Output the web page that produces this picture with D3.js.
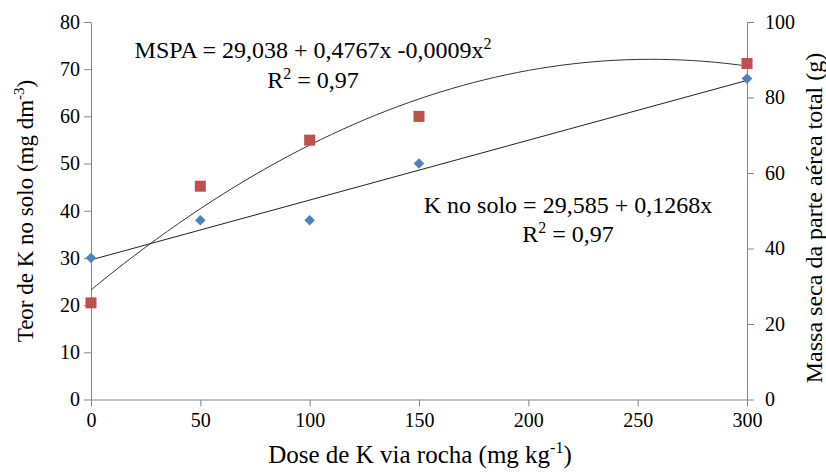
<!DOCTYPE html>
<html>
<head>
<meta charset="utf-8">
<script src="https://cdn.jsdelivr.net/npm/d3@7"></script>
<style>
  body { margin: 0; background: #fff; }
  svg text { font-family: "Liberation Serif", "Times New Roman", serif; fill: #000; }
  .axis path, .axis line { stroke: #868686; }
  .axis text { font-size: 20px; }
</style>
</head>
<body>
<div id="chart"></div>
<script>
var width = 826;
var height = 473;

// doses (x axis)
var doses = [0, 50, 100, 150, 300];
// K no solo (left axis, mg dm-3)
var kSolo = [30, 38, 38, 50, 68];
// MSPA (right axis, g)
var mspa = [25.6, 56.5, 68.7, 75, 89];

// trendline coefficients (quadratic term unrounded to follow the drawn curve)
var kSoloFit = [29.585, 0.1268];
var mspaFit = [29.038, 0.4767, -0.00093];

var xTicks = [0, 50, 100, 150, 200, 250, 300];
var leftTicks = [0, 10, 20, 30, 40, 50, 60, 70, 80];
var rightTicks = [0, 20, 40, 60, 80, 100];

var margin = {top: 22, right: 80, bottom: 74, left: 91};

var svg = d3.select("#chart").append("svg")
  .attr("width", width)
  .attr("height", height);

var x = d3.scaleLinear().domain([0, 300]).range([margin.left, 747]);
var yL = d3.scaleLinear().domain([0, 80]).range([399.5, margin.top]);
var yR = d3.scaleLinear().domain([0, 100]).range([399.5, margin.top]);

// axes
svg.append("g")
  .attr("class", "axis")
  .attr("transform", "translate(0," + yL(0) + ")")
  .call(d3.axisBottom(x).tickValues(xTicks).tickSize(7).tickSizeOuter(0).tickPadding(6));

svg.append("g")
  .attr("class", "axis")
  .attr("transform", "translate(" + x(0) + ",0)")
  .call(d3.axisLeft(yL).tickValues(leftTicks).tickSize(7).tickSizeOuter(0).tickPadding(4));

svg.append("g")
  .attr("class", "axis")
  .attr("transform", "translate(" + x(300) + ",0)")
  .call(d3.axisRight(yR).tickValues(rightTicks).tickSize(7).tickSizeOuter(0).tickPadding(11));

// d3 puts sans-serif on axis groups, drop it
svg.selectAll(".axis").attr("font-family", null).attr("font-size", null);

// trend lines
var lin = d3.line()
  .x(function(d) { return x(d); })
  .y(function(d) { return yL(kSoloFit[0] + kSoloFit[1] * d); });

svg.append("path")
  .datum([0, 300])
  .attr("d", lin)
  .attr("fill", "none")
  .attr("stroke", "#222")
  .attr("stroke-width", 1);

var quad = d3.line()
  .x(function(d) { return x(d); })
  .y(function(d) { return yR(mspaFit[0] + mspaFit[1] * d + mspaFit[2] * d * d); })
  .curve(d3.curveBasis);

svg.append("path")
  .datum(d3.range(0, 301, 5))
  .attr("d", quad)
  .attr("fill", "none")
  .attr("stroke", "#333")
  .attr("stroke-width", 1);

// markers
svg.append("g").selectAll("rect")
  .data(doses)
  .enter()
  .append("rect")
  .attr("x", function(d) { return x(d) - 5.5; })
  .attr("y", function(d, i) { return yR(mspa[i]) - 5.5; })
  .attr("width", 11)
  .attr("height", 11)
  .attr("fill", "#C0504D");

svg.append("g").selectAll("path")
  .data(doses)
  .enter()
  .append("path")
  .attr("d", d3.symbol().type(d3.symbolSquare).size(56))
  .attr("transform", function(d, i) {
    return "translate(" + x(d) + "," + yL(kSolo[i]) + ") rotate(45)";
  })
  .attr("fill", "#4F81BD");

// equations
var eq1 = svg.append("text")
  .attr("x", 313).attr("y", 58)
  .attr("text-anchor", "middle")
  .style("font-size", "24px");
eq1.append("tspan").text("MSPA = 29,038 + 0,4767x -0,0009x");
eq1.append("tspan").attr("dy", -9).style("font-size", "16px").text("2");

var eq1r = svg.append("text")
  .attr("x", 313).attr("y", 88)
  .attr("text-anchor", "middle")
  .style("font-size", "24px");
eq1r.append("tspan").text("R");
eq1r.append("tspan").attr("dy", -9).style("font-size", "16px").text("2");
eq1r.append("tspan").attr("dy", 9).text(" = 0,97");

svg.append("text")
  .attr("x", 568).attr("y", 213)
  .attr("text-anchor", "middle")
  .style("font-size", "24px")
  .text("K no solo = 29,585 + 0,1268x");

var eq2r = svg.append("text")
  .attr("x", 568).attr("y", 242)
  .attr("text-anchor", "middle")
  .style("font-size", "24px");
eq2r.append("tspan").text("R");
eq2r.append("tspan").attr("dy", -9).style("font-size", "16px").text("2");
eq2r.append("tspan").attr("dy", 9).text(" = 0,97");

// axis titles
var xt = svg.append("text")
  .attr("x", 420).attr("y", 463)
  .attr("text-anchor", "middle")
  .style("font-size", "25px");
xt.append("tspan").text("Dose de K via rocha (mg kg");
xt.append("tspan").attr("dy", -10).style("font-size", "16px").text("-1");
xt.append("tspan").attr("dy", 10).text(")");

var ylt = svg.append("text")
  .attr("transform", "translate(33,211) rotate(-90)")
  .attr("text-anchor", "middle")
  .style("font-size", "23px");
ylt.append("tspan").text("Teor de K no solo (mg dm");
ylt.append("tspan").attr("dy", -9).style("font-size", "15px").text("-3");
ylt.append("tspan").attr("dy", 9).text(")");

svg.append("text")
  .attr("transform", "translate(822,218) rotate(-90)")
  .attr("text-anchor", "middle")
  .style("font-size", "24px")
  .text("Massa seca da parte aérea total (g)");
</script>
</body>
</html>
